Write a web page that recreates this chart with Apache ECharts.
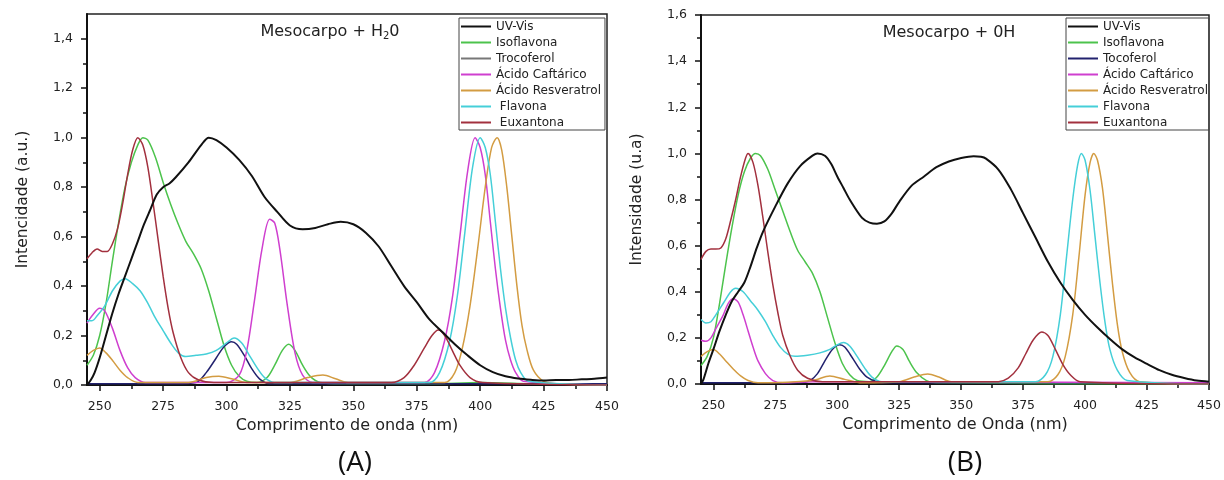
<!DOCTYPE html>
<html>
<head>
<meta charset="utf-8">
<script src="https://cdn.jsdelivr.net/npm/echarts@6/dist/echarts.min.js"></script>
<style>body{margin:0;background:#fff}</style>
</head>
<body>
<div id="myChart" style="width:1224px;height:480px"></div>
<script>
// tick values
var xTicks = [250, 275, 300, 325, 350, 375, 400, 425, 450]
var xMinor = [262.5, 287.5, 312.5, 337.5, 362.5, 387.5, 412.5, 437.5]
var yTicksA = [0, 0.2, 0.4, 0.6, 0.8, 1.0, 1.2, 1.4]
var yMinorA = [0.1, 0.3, 0.5, 0.7, 0.9, 1.1, 1.3]
var yTicksB = [0, 0.2, 0.4, 0.6, 0.8, 1.0, 1.2, 1.4, 1.6]
var yMinorB = [0.1, 0.3, 0.5, 0.7, 0.9, 1.1, 1.3, 1.5]

// (A) Mesocarpo + H2O  -- [wavelength nm, intensity]
var uvA = [[245,0.0],[246.5,0.02],[248,0.05],[250,0.11],[252.5,0.2],[255,0.29],[257.5,0.37],[260,0.44],[262.5,0.51],[265,0.58],[267.5,0.65],[270,0.71],[272.5,0.77],[275,0.8],[277.5,0.815],[280,0.84],[285,0.9],[290,0.97],[293,1.0],[296,0.99],[300,0.96],[305,0.91],[310,0.845],[315,0.76],[320,0.7],[325,0.645],[330,0.63],[335,0.635],[340,0.65],[345,0.66],[350,0.65],[355,0.615],[360,0.56],[365,0.48],[370,0.4],[375,0.335],[380,0.265],[385,0.215],[390,0.165],[395,0.12],[400,0.08],[405,0.052],[410,0.035],[415,0.026],[420,0.021],[425,0.018],[430,0.02],[435,0.02],[440,0.023],[445,0.025],[450,0.03]]
var isoA = [[245,0.08],[247.5,0.12],[250,0.2],[252.5,0.33],[255,0.5],[257.5,0.66],[260,0.8],[262.5,0.9],[265,0.97],[267,1.0],[269,0.99],[272,0.92],[275,0.82],[278,0.73],[281,0.65],[284,0.58],[287,0.53],[290,0.47],[293,0.38],[296,0.27],[299,0.16],[302,0.08],[305,0.035],[308,0.015],[312,0.01],[316,0.03],[319,0.08],[322,0.14],[324.5,0.165],[327,0.14],[330,0.08],[333,0.035],[337,0.01],[345,0.005],[380,0.005],[400,0.01],[420,0.005],[450,0.0]]
var tocA = [[245,0.005],[280,0.005],[288,0.01],[292,0.05],[296,0.11],[299,0.155],[302,0.175],[304,0.165],[307,0.12],[310,0.065],[313,0.025],[317,0.005],[450,0.005]]
var cafA = [[245,0.25],[247,0.28],[250,0.31],[252,0.3],[255,0.23],[258,0.14],[261,0.07],[264,0.03],[268,0.01],[300,0.01],[305,0.04],[308,0.14],[311,0.34],[314,0.55],[317,0.67],[319,0.655],[321,0.55],[324,0.32],[327,0.13],[330,0.04],[334,0.01],[378,0.01],[382,0.05],[386,0.18],[389,0.35],[392,0.6],[395,0.86],[398,1.0],[400,0.96],[402,0.85],[404,0.66],[406,0.47],[408,0.31],[410,0.18],[412,0.1],[414,0.05],[417,0.015],[450,0.0]]
var resA = [[245,0.12],[247.5,0.14],[250,0.15],[252.5,0.13],[255,0.1],[258,0.06],[261,0.03],[265,0.01],[285,0.01],[292,0.03],[297,0.035],[302,0.025],[308,0.01],[325,0.01],[332,0.03],[338,0.04],[343,0.025],[348,0.01],[386,0.01],[390,0.05],[393,0.15],[396,0.32],[399,0.55],[402,0.8],[404.5,0.96],[406.7,1.0],[408.5,0.95],[410.5,0.8],[412.5,0.6],[414.5,0.4],[416.5,0.24],[418.5,0.14],[421,0.06],[425,0.015],[430,0.005],[450,0.0]]
var flaA = [[245,0.26],[247,0.26],[249,0.28],[252,0.32],[255,0.38],[258,0.42],[260,0.43],[263,0.41],[266,0.38],[269,0.33],[272,0.27],[275,0.22],[278,0.17],[281,0.13],[284,0.115],[288,0.12],[292,0.125],[296,0.14],[300,0.17],[303,0.19],[306,0.17],[309,0.12],[312,0.07],[315,0.03],[319,0.01],[380,0.01],[384,0.05],[388,0.18],[391,0.36],[394,0.62],[397,0.88],[400,1.0],[402,0.96],[404,0.85],[406,0.66],[408,0.47],[410,0.31],[412,0.19],[414,0.1],[416,0.05],[419,0.015],[450,0.0]]
var euxA = [[245,0.51],[247,0.535],[249,0.55],[251,0.54],[253,0.54],[255,0.57],[257,0.63],[259,0.73],[261,0.85],[263,0.95],[265,1.0],[267,0.97],[269,0.88],[271,0.74],[273,0.59],[275,0.44],[277,0.31],[279,0.21],[282,0.11],[285,0.05],[289,0.02],[295,0.01],[365,0.01],[370,0.03],[374,0.08],[378,0.15],[381,0.2],[383.5,0.222],[386,0.2],[389,0.14],[392,0.08],[396,0.03],[401,0.01],[450,0.0]]

// (B) Mesocarpo + 0H
var uvB = [[245,0.0],[246,0.02],[248,0.09],[250,0.15],[252.5,0.23],[255,0.3],[257.5,0.36],[260,0.4],[262.5,0.44],[265,0.51],[267.5,0.59],[270,0.66],[275,0.77],[280,0.87],[285,0.945],[290,0.99],[292,1.0],[295,0.99],[297.5,0.955],[300,0.9],[302.5,0.85],[305,0.8],[310,0.72],[313,0.7],[316,0.695],[319,0.705],[322,0.74],[325,0.79],[330,0.86],[335,0.9],[340,0.94],[345,0.965],[350,0.98],[355,0.988],[358,0.985],[360,0.977],[365,0.93],[370,0.845],[375,0.74],[380,0.635],[385,0.53],[390,0.44],[395,0.365],[400,0.3],[405,0.245],[410,0.195],[415,0.15],[420,0.115],[425,0.087],[430,0.06],[435,0.04],[440,0.026],[445,0.015],[450,0.01]]
var isoB = [[245,0.08],[247.5,0.12],[250,0.2],[252.5,0.35],[255,0.52],[257.5,0.68],[260,0.82],[262.5,0.92],[265,0.98],[267,1.0],[269,0.99],[272,0.93],[275,0.84],[278,0.75],[281,0.66],[284,0.58],[287,0.53],[290,0.48],[293,0.4],[296,0.29],[299,0.18],[302,0.09],[305,0.04],[308,0.015],[313,0.01],[316,0.03],[319,0.08],[322,0.14],[324,0.165],[326.5,0.15],[329,0.1],[332,0.05],[336,0.015],[340,0.005],[450,0.0]]
var tocB = [[245,0.005],[285,0.005],[289,0.015],[292,0.045],[295,0.1],[298,0.15],[301,0.17],[303,0.16],[306,0.115],[309,0.065],[312,0.03],[316,0.01],[320,0.005],[450,0.005]]
var cafB = [[245,0.19],[247,0.185],[249,0.2],[251,0.24],[254,0.3],[256,0.35],[258,0.37],[260,0.355],[262,0.3],[264,0.23],[266,0.16],[268,0.1],[271,0.045],[274,0.015],[278,0.005],[290,0.01],[296,0.01],[450,0.005]]
var resB = [[245,0.12],[247.5,0.14],[250,0.15],[252.5,0.13],[255,0.1],[258,0.065],[261,0.035],[264,0.015],[268,0.005],[290,0.015],[297,0.035],[303,0.02],[310,0.005],[325,0.01],[331,0.03],[336.5,0.043],[341,0.03],[346,0.01],[385,0.01],[389,0.04],[392,0.12],[395,0.3],[397.5,0.55],[400,0.82],[402,0.96],[403.5,1.0],[405,0.97],[407,0.85],[409,0.65],[411,0.44],[413,0.26],[415,0.14],[418,0.05],[422,0.01],[450,0.0]]
var flaB = [[245,0.28],[247,0.265],[249,0.27],[251,0.3],[254,0.35],[257,0.4],[259,0.415],[262,0.4],[265,0.36],[268,0.32],[271,0.27],[274,0.21],[277,0.16],[280,0.13],[283,0.12],[288,0.125],[293,0.135],[297,0.15],[300,0.17],[302.5,0.18],[305,0.165],[308,0.12],[311,0.07],[314,0.03],[318,0.01],[380,0.01],[384,0.04],[387,0.12],[390,0.3],[392.5,0.55],[395,0.8],[397,0.95],[398.5,1.0],[400,0.97],[402,0.84],[404,0.64],[406,0.44],[408,0.27],[410,0.15],[413,0.06],[417,0.015],[450,0.0]]
var euxB = [[245,0.54],[247,0.575],[249,0.585],[251,0.585],[253,0.59],[255,0.63],[257,0.71],[259,0.8],[261,0.9],[263,0.98],[264,1.0],[266,0.96],[268,0.86],[270,0.72],[272,0.57],[274,0.43],[276,0.31],[278,0.21],[281,0.12],[284,0.06],[288,0.025],[294,0.01],[365,0.01],[369,0.025],[373,0.07],[376,0.13],[379,0.19],[382.5,0.225],[385,0.21],[388,0.15],[391,0.085],[394,0.04],[398,0.01],[450,0.0]]

var font = 'DejaVu Sans'
var colors = {
  uv: '#111111',
  iso: '#4cc34c',
  toc: '#22226e',
  caf: '#cf3fcf',
  res: '#d39c42',
  fla: '#45cfd8',
  eux: '#a2303e'
}

function comma (v) {
  return v.toFixed(1).replace('.', ',')
}

function mainX (grid, name) {
  return {
    type: 'value', gridIndex: grid, min: 245, max: 450, position: 'bottom',
    name: name, nameLocation: 'middle', nameGap: 32,
    nameTextStyle: {fontFamily: font, fontSize: 16, color: '#222'},
    axisLine: {lineStyle: {color: '#111', width: 2}},
    axisTick: {customValues: xTicks, length: 6, lineStyle: {color: '#111', width: 1.5}},
    axisLabel: {customValues: xTicks, margin: 15, fontFamily: font, fontSize: 12.5, color: '#222'},
    splitLine: {show: false}
  }
}
function minorX (grid) {
  return {
    type: 'value', gridIndex: grid, min: 245, max: 450, position: 'bottom',
    axisLine: {show: false},
    axisTick: {customValues: xMinor, length: 4, lineStyle: {color: '#111', width: 1.5}},
    axisLabel: {show: false},
    splitLine: {show: false}
  }
}
function mainY (grid, max, ticks, name) {
  return {
    type: 'value', gridIndex: grid, min: 0, max: max, position: 'left',
    name: name, nameLocation: 'middle', nameGap: 56,
    nameTextStyle: {fontFamily: font, fontSize: 15.5, color: '#222'},
    axisLine: {lineStyle: {color: '#111', width: 2}},
    axisTick: {customValues: ticks, length: 6, lineStyle: {color: '#111', width: 1.5}},
    axisLabel: {customValues: ticks, margin: 14, fontFamily: font, fontSize: 12.5, color: '#222', formatter: comma},
    splitLine: {show: false}
  }
}
function minorY (grid, max, ticks) {
  return {
    type: 'value', gridIndex: grid, min: 0, max: max, position: 'left',
    axisLine: {show: false},
    axisTick: {customValues: ticks, length: 4, lineStyle: {color: '#111', width: 1.5}},
    axisLabel: {show: false},
    splitLine: {show: false}
  }
}

function line (name, data, color, idx, width) {
  return {
    name: name, type: 'line', data: data,
    xAxisIndex: idx, yAxisIndex: idx,
    showSymbol: false, smooth: 0.3,
    lineStyle: {color: color, width: width || 1.5},
    itemStyle: {color: color}
  }
}

function legendBox (names, left, padRight) {
  return {
    orient: 'vertical', left: left, top: 18,
    data: names, selectedMode: false,
    icon: 'rect', itemWidth: 30, itemHeight: 2, itemGap: 3,
    padding: [2, padRight, 1, 2],
    borderColor: '#444', borderWidth: 1,
    textStyle: {fontFamily: font, fontSize: 12, color: '#222', lineHeight: 13}
  }
}

var namesA = ['UV-Vis', 'Isoflavona', {name: 'Trocoferol', itemStyle: {color: '#777'}}, 'Ácido Caftárico', 'Ácido Resveratrol', ' Flavona', ' Euxantona']
var namesB = ['UV-Vis', 'Isoflavona', 'Tocoferol', 'Ácido Caftárico', 'Ácido Resveratrol', 'Flavona', 'Euxantona']

var options = {
  animation: false,
  grid: [
    {left: 87, right: 617, top: 14, bottom: 95, show: true, borderColor: '#222', borderWidth: 1.5},
    {left: 701, right: 15, top: 15, bottom: 96, show: true, borderColor: '#222', borderWidth: 1.5}
  ],
  title: [
    {text: '{a|Mesocarpo + H}{s|2}{a|0}', left: 325, top: 18, textAlign: 'center',
      textStyle: {fontWeight: 'normal', rich: {
        a: {fontFamily: font, fontSize: 16, fontWeight: 'normal', color: '#222'},
        s: {fontFamily: font, fontSize: 10, fontWeight: 'normal', color: '#222', padding: [8, 0, 0, 0]}
      }}},
    {text: 'Mesocarpo + 0H', left: 944, top: 20, textAlign: 'center',
      textStyle: {fontFamily: font, fontSize: 16, fontWeight: 'normal', color: '#222'}},
    {text: '(A)', left: 350, top: 444, textAlign: 'center',
      textStyle: {fontFamily: 'Open Sans', fontSize: 28, fontWeight: 'normal', color: '#111'}},
    {text: '(B)', left: 960, top: 444, textAlign: 'center',
      textStyle: {fontFamily: 'Open Sans', fontSize: 28, fontWeight: 'normal', color: '#111'}}
  ],
  legend: [legendBox(namesA, 459, 4), legendBox(namesB, 1066, 1)],
  xAxis: [mainX(0, 'Comprimento de onda (nm)'), mainX(1, 'Comprimento de Onda (nm)'), minorX(0), minorX(1)],
  yAxis: [mainY(0, 1.5, yTicksA, 'Intencidade (a.u.)'), mainY(1, 1.6, yTicksB, 'Intensidade (u.a)'), minorY(0, 1.5, yMinorA), minorY(1, 1.6, yMinorB)],
  series: [
    line('Isoflavona', isoA, colors.iso, 0),
    line('Trocoferol', tocA, colors.toc, 0),
    line('Ácido Caftárico', cafA, colors.caf, 0),
    line('Ácido Resveratrol', resA, colors.res, 0),
    line(' Flavona', flaA, colors.fla, 0),
    line(' Euxantona', euxA, colors.eux, 0),
    line('UV-Vis', uvA, colors.uv, 0, 2),
    line('Isoflavona', isoB, colors.iso, 1),
    line('Tocoferol', tocB, colors.toc, 1),
    line('Ácido Caftárico', cafB, colors.caf, 1),
    line('Ácido Resveratrol', resB, colors.res, 1),
    line('Flavona', flaB, colors.fla, 1),
    line('Euxantona', euxB, colors.eux, 1),
    line('UV-Vis', uvB, colors.uv, 1, 2)
  ]
}

var myChart = echarts.init(document.getElementById('myChart'))
myChart.setOption(options)
</script>
</body>
</html>
